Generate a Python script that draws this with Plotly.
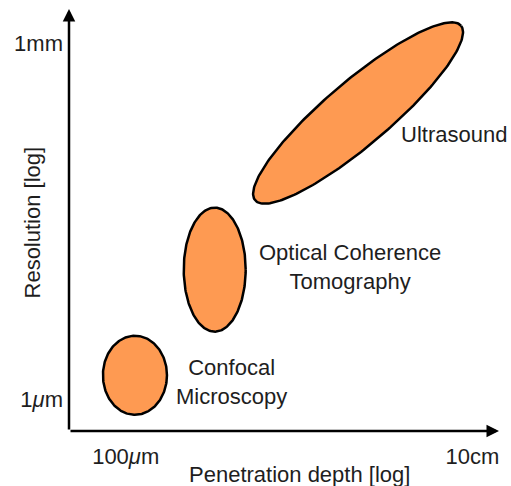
import numpy as np
import plotly.graph_objects as go

# ---- data (log10 of metres) ----
modalities = ["Confocal<br>Microscopy", "Optical Coherence<br>Tomography", "Ultrasound"]
depth_center = [-3.92, -3.23, -1.99]      # log10 penetration depth
res_center = [-5.80, -4.91, -3.59]        # log10 resolution
axis_a = [0.277, 0.268, 1.155]            # semi-axis along angle (decades)
axis_b = [0.333, 0.5225, 0.273]           # perpendicular semi-axis (decades)
tilt_deg = [0.0, 0.0, 39.5]

x_tickvals = [-4, -1]
x_ticktext = ["100<i>μ</i>m", "10cm"]
y_tickvals = [-6, -3]
y_ticktext = ["1<i>μ</i>m", "1mm"]

# ---- layout constants ----
X_RANGE = [-4.4905, -0.7708]
Y_RANGE = [-6.2697, -2.7136]
LABEL_POS = [(-3.085, -5.859), (-2.060, -4.890), (-1.156, -3.775)]
FILL = "#FE9A52"
FONT = dict(family="Liberation Sans, Arial, sans-serif", size=22, color="#1e1e1e")

fig = go.Figure()
t = np.linspace(0, 2 * np.pi, 240)
for name, cx, cy, a, b, ang in zip(modalities, depth_center, res_center, axis_a, axis_b, tilt_deg):
    p = np.deg2rad(ang)
    xs = cx + a * np.cos(t) * np.cos(p) - b * np.sin(t) * np.sin(p)
    ys = cy + a * np.cos(t) * np.sin(p) + b * np.sin(t) * np.cos(p)
    fig.add_trace(go.Scatter(x=xs, y=ys, mode="lines", fill="toself",
                             fillcolor=FILL, line=dict(color="black", width=2.5),
                             name=name.replace("<br>", " "), hoverinfo="name",
                             showlegend=False))

for name, (lx, ly) in zip(modalities, LABEL_POS):
    fig.add_annotation(x=lx, y=ly, xref="x", yref="y", text=name, showarrow=False,
                       font=FONT, xanchor="center", yanchor="middle")

# axis arrows
fig.add_annotation(x=X_RANGE[1], y=Y_RANGE[0], ax=X_RANGE[0], ay=Y_RANGE[0],
                   xref="x", yref="y", axref="x", ayref="y", text="",
                   showarrow=True, arrowhead=2, arrowsize=1, arrowwidth=2.5,
                   arrowcolor="black", standoff=0)
fig.add_annotation(x=X_RANGE[0], y=Y_RANGE[1], ax=X_RANGE[0], ay=Y_RANGE[0],
                   xref="x", yref="y", axref="x", ayref="y", text="",
                   showarrow=True, arrowhead=2, arrowsize=1, arrowwidth=2.5,
                   arrowcolor="black", standoff=0)

# axis titles
fig.add_annotation(x=0.536, y=0, xref="paper", yref="paper", yshift=-43,
                   text="Penetration depth [log]", showarrow=False, font=FONT,
                   xanchor="center", yanchor="middle")
fig.add_annotation(x=0, y=0.4929, xref="paper", yref="paper", xshift=-36.5,
                   text="Resolution [log]", showarrow=False, font=FONT, textangle=-90,
                   xanchor="center", yanchor="middle")

fig.update_xaxes(range=X_RANGE, tickvals=x_tickvals, ticktext=x_ticktext,
                 showgrid=False, zeroline=False, showline=False, ticks="",
                 tickfont=FONT, ticklabelstandoff=10, fixedrange=True)
fig.update_yaxes(range=Y_RANGE, tickvals=y_tickvals, ticktext=y_ticktext,
                 showgrid=False, zeroline=False, showline=False, ticks="",
                 tickfont=FONT, ticklabelstandoff=5, fixedrange=True)

fig.update_layout(width=511, height=486, margin=dict(l=69, r=12, t=9, b=55),
                  plot_bgcolor="white", paper_bgcolor="white", showlegend=False)

fig.write_html("out.html", config={"displayModeBar": False},
               post_script="document.body.style.margin='0';"
                           "document.body.style.overflow='hidden';")
